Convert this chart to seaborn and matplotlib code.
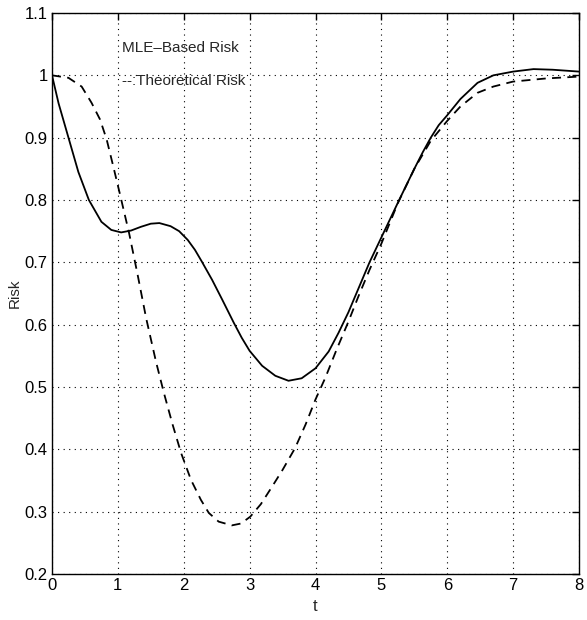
import numpy as np
import pandas as pd
import matplotlib
matplotlib.use("Agg")
import matplotlib.pyplot as plt
import seaborn as sns

# values
t_mle = [0, 0.1, 0.25, 0.4, 0.56, 0.75, 0.9, 1.05, 1.2, 1.35, 1.5, 1.63, 1.8, 1.93, 2.06, 2.17,
         2.27, 2.43, 2.58, 2.76, 2.88, 3.0, 3.19, 3.39, 3.59, 3.79, 4.0, 4.2, 4.35, 4.5, 4.66,
         4.82, 5.0, 5.27, 5.5, 5.63, 5.75, 5.87, 6.0, 6.2, 6.46, 6.7, 7.0, 7.31, 7.6, 8.0]
risk_mle = [1.0, 0.955, 0.9, 0.845, 0.8, 0.765, 0.752, 0.748, 0.751, 0.757, 0.762, 0.763, 0.758,
            0.750, 0.736, 0.720, 0.702, 0.672, 0.641, 0.603, 0.579, 0.558, 0.534, 0.518, 0.510,
            0.514, 0.530, 0.557, 0.587, 0.620, 0.660, 0.700, 0.740, 0.800, 0.850, 0.877, 0.900,
            0.920, 0.936, 0.962, 0.988, 1.0, 1.006, 1.010, 1.009, 1.006]

t_theory = [0, 0.25, 0.45, 0.60, 0.73, 0.83, 0.93, 1.03, 1.17, 1.30, 1.43, 1.58, 1.70, 1.83, 1.96,
            2.11, 2.26, 2.38, 2.53, 2.73, 2.87, 3.01, 3.17, 3.34, 3.5, 3.69, 3.85, 4.0, 4.15,
            4.32, 4.5, 4.65, 4.82, 5.0, 5.25, 5.5, 5.75, 6.0, 6.2, 6.46, 6.7, 7.0, 7.5, 8.0]
risk_theory = [1.0, 0.996, 0.982, 0.956, 0.929, 0.897, 0.854, 0.810, 0.747, 0.680, 0.610, 0.540,
               0.490, 0.440, 0.394, 0.351, 0.319, 0.298, 0.284, 0.278, 0.281, 0.292, 0.312,
               0.340, 0.367, 0.402, 0.440, 0.480, 0.515, 0.560, 0.605, 0.645, 0.688, 0.730,
               0.795, 0.850, 0.895, 0.927, 0.950, 0.972, 0.982, 0.990, 0.995, 0.998]

xticks = [0, 1, 2, 3, 4, 5, 6, 7, 8]
yticks = [0.2, 0.3, 0.4, 0.5, 0.6, 0.7, 0.8, 0.9, 1.0, 1.1]
ytick_labels = ["0.2", "0.3", "0.4", "0.5", "0.6", "0.7", "0.8", "0.9", "1", "1.1"]

sns.set_style("white")
plt.rcParams["font.family"] = ["Liberation Sans", "DejaVu Sans"]

fig = plt.figure(figsize=(5.87, 6.2), dpi=100)
ax = fig.add_axes([52/587, 46/620, 527/587, 561/620])

sns.lineplot(x=t_mle, y=risk_mle, ax=ax, color="black", linewidth=1.3, sort=False)
sns.lineplot(x=t_theory, y=risk_theory, ax=ax, color="black", linewidth=1.3, sort=False,
             linestyle=(0, (5, 3.5)))

ax.set_xlim(0, 8)
ax.set_ylim(0.2, 1.1)
ax.set_xticks(xticks)
ax.set_xticklabels([str(x) for x in xticks])
ax.set_yticks(yticks)
ax.set_yticklabels(ytick_labels)
ax.grid(True, color="black", linestyle=(0, (1, 4)), linewidth=0.8)
ax.tick_params(direction="in", length=5, width=1, top=True, right=True,
               labelsize=12, colors="black", pad=3)
for s in ax.spines.values():
    s.set_color("black")
    s.set_linewidth(1)

ax.set_xlabel("t", fontsize=12, labelpad=4)
ax.set_ylabel("Risk", fontsize=11, labelpad=2)

ax.text(1.07, 1.044, "MLE\u2013Based Risk", fontsize=11, ha="left", va="center")
ax.text(1.07, 0.991, "--:Theoretical Risk", fontsize=11, ha="left", va="center")

fig.savefig("out.png", dpi=100)
